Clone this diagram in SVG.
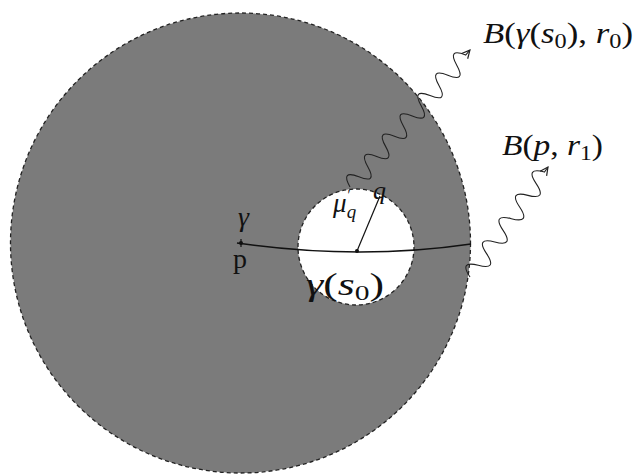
<svg xmlns="http://www.w3.org/2000/svg" width="635" height="474" viewBox="0 0 635 474">
<style>
.dash{stroke:#222;stroke-width:1.3;stroke-dasharray:4 3}
.wave{fill:none;stroke:#222;stroke-width:1.1}
.curve{fill:none;stroke:#111;stroke-width:1.6}
</style>
<defs>
<marker id="arr" viewBox="0 0 10 10" refX="9" refY="5" markerWidth="10" markerHeight="10" markerUnits="userSpaceOnUse" orient="auto">
<path d="M1,1 L9,5 L1,9" fill="none" stroke="#222" stroke-width="1.2"/>
</marker>
</defs>
<rect width="635" height="474" fill="#fff"/>
<g id="ball-p-r1">
<circle cx="240.5" cy="243" r="230" fill="#7b7b7b" class="dash"/>
</g>
<g id="ball-gamma-s0-r0">
<circle cx="356" cy="247" r="58" fill="#fff" class="dash"/>
</g>
<g id="connectors">
<path id="gamma-curve" class="curve" d="M237,243 Q358.5,260.5 471,244"/>
<line id="radius" x1="357" y1="251" x2="380" y2="196" stroke="#111" stroke-width="1.2"/>
<g transform="translate(350,187) rotate(-48.78)">
<path class="wave" marker-end="url(#arr)" d="M0,0 q6.75,-19 13.5,0 t13.5,0 t13.5,0 t13.5,0 t13.5,0 t13.5,0 t13.5,0 t13.5,0 t13.5,0 t13.5,0 t13.5,0 t13.5,0 t13.5,0 L182,0"/>
</g>
<g transform="translate(470,277) rotate(-54.66)">
<path class="wave" marker-end="url(#arr)" d="M0,0 q7.15,-19 14.3,0 t14.3,0 t14.3,0 t14.3,0 t14.3,0 t14.3,0 t14.3,0 t14.3,0 t14.3,0 L134.8,0"/>
</g>
</g>
<g id="point-p" font-family="Liberation Serif, serif" fill="#111">
<circle cx="241" cy="243" r="2"/>
<line x1="241" y1="239" x2="241" y2="247" stroke="#111" stroke-width="1.2"/>
<text x="238" y="226" font-size="28" font-style="italic">γ</text>
<text x="233" y="268" font-size="28">p</text>
</g>
<g id="point-gamma-s0" font-family="Liberation Serif, serif" fill="#111">
<circle cx="357" cy="251" r="2"/>
<text x="306" y="295" font-size="31" font-style="italic" textLength="78" lengthAdjust="spacingAndGlyphs">γ<tspan font-style="normal">(</tspan>s<tspan font-style="normal" font-size="21" dy="5">0</tspan><tspan font-style="normal" dy="-5">)</tspan></text>
</g>
<g id="point-q" font-family="Liberation Serif, serif" fill="#111" font-style="italic">
<text x="373" y="199" font-size="26">q</text>
<text x="333" y="212" font-size="27">μ<tspan font-style="normal" font-size="14" dx="1" dy="-12">′</tspan><tspan font-size="19" dx="-4" dy="18">q</tspan></text>
</g>
<g id="label-r0" font-family="Liberation Serif, serif" fill="#111" font-style="italic">
<text x="483" y="43" font-size="30" textLength="150" lengthAdjust="spacingAndGlyphs">B<tspan font-style="normal">(</tspan>γ<tspan font-style="normal">(</tspan>s<tspan font-style="normal" font-size="21" dy="5">0</tspan><tspan font-style="normal" dy="-5">),</tspan> r<tspan font-style="normal" font-size="21" dy="5">0</tspan><tspan font-style="normal" dy="-5">)</tspan></text>
</g>
<g id="label-r1" font-family="Liberation Serif, serif" fill="#111" font-style="italic">
<text x="502" y="155" font-size="30" textLength="101" lengthAdjust="spacingAndGlyphs">B<tspan font-style="normal">(</tspan>p<tspan font-style="normal">,</tspan> r<tspan font-style="normal" font-size="21" dy="5">1</tspan><tspan font-style="normal" dy="-5">)</tspan></text>
</g>
</svg>
